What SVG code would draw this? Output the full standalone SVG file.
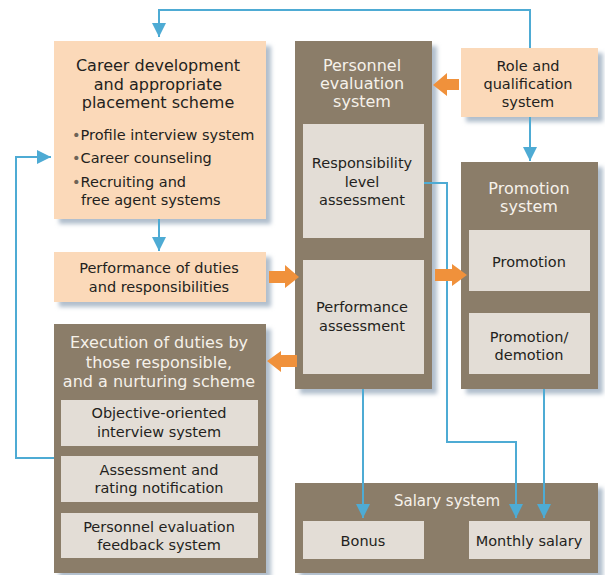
<svg xmlns="http://www.w3.org/2000/svg" width="605" height="575" viewBox="0 0 605 575">
<defs>
<filter id="sh" x="-10%" y="-10%" width="130%" height="130%">
<feDropShadow dx="5" dy="5" stdDeviation="2" flood-color="#97a9bc" flood-opacity="0.75"/>
</filter>
<marker id="ah" markerUnits="userSpaceOnUse" markerWidth="14" markerHeight="15" refX="14" refY="7" orient="auto" viewBox="0 0 14 14">
<path d="M0,0 L14,7 L0,14 Z" fill="#4eabd4"/>
</marker>
<style>
.peach{fill:#fbd9b9;filter:url(#sh)}
.brown{fill:#8b7d69;filter:url(#sh)}
.inner{fill:#e3ddd6}
text{font-family:"DejaVu Sans","Open Sans",sans-serif;font-size:14.5px;text-anchor:middle;fill:#231f20}
.t{font-size:16px}
.w{fill:#f6f1ea;font-size:16px}
.l{text-anchor:start}
.blue{fill:none;stroke:#4eabd4;stroke-width:2}
.oa{fill:#f0913b}
</style>
</defs>

<g id="career">
<rect class="peach" x="54" y="41" width="212" height="178"/>
<text class="t" x="158" y="71">Career development</text>
<text class="t" x="158" y="90">and appropriate</text>
<text class="t" x="158" y="108">placement scheme</text>
<text class="l" x="72" y="140"><tspan fill="#6d6357">•</tspan>Profile interview system</text>
<text class="l" x="72" y="163"><tspan fill="#6d6357">•</tspan>Career counseling</text>
<text class="l" x="72" y="187"><tspan fill="#6d6357">•</tspan>Recruiting and</text>
<text class="l" x="81" y="205">free agent systems</text>
</g>

<g id="perfduties">
<rect class="peach" x="54" y="252" width="212" height="50"/>
<text x="159" y="273">Performance of duties</text>
<text x="159" y="292">and responsibilities</text>
</g>

<g id="execution">
<rect class="brown" x="54" y="324" width="212" height="249"/>
<text class="w" x="159" y="348">Execution of duties by</text>
<text class="w" x="159" y="368">those responsible,</text>
<text class="w" x="159" y="387">and a nurturing scheme</text>
<rect class="inner" x="61" y="400" width="197" height="46"/>
<text x="159" y="418">Objective-oriented</text>
<text x="159" y="437">interview system</text>
<rect class="inner" x="61" y="456" width="197" height="46"/>
<text x="159" y="475">Assessment and</text>
<text x="159" y="493">rating notification</text>
<rect class="inner" x="61" y="513" width="197" height="45"/>
<text x="159" y="532">Personnel evaluation</text>
<text x="159" y="550">feedback system</text>
</g>

<g id="personnel">
<rect class="brown" x="295" y="41" width="137" height="348"/>
<text class="w" x="362" y="71">Personnel</text>
<text class="w" x="362" y="89">evaluation</text>
<text class="w" x="362" y="107">system</text>
<rect class="inner" x="303" y="124" width="121" height="114"/>
<text x="362" y="168">Responsibility</text>
<text x="362" y="187">level</text>
<text x="362" y="205">assessment</text>
<rect class="inner" x="303" y="260" width="121" height="114"/>
<text x="362" y="312">Performance</text>
<text x="362" y="331">assessment</text>
</g>

<g id="role">
<rect class="peach" x="461" y="48" width="137" height="69"/>
<text x="528" y="71">Role and</text>
<text x="528" y="89">qualification</text>
<text x="528" y="107">system</text>
</g>

<g id="promotion">
<rect class="brown" x="461" y="162" width="137" height="227"/>
<text class="w" x="529" y="194">Promotion</text>
<text class="w" x="529" y="212">system</text>
<rect class="inner" x="469" y="230" width="121" height="61"/>
<text x="529" y="267">Promotion</text>
<rect class="inner" x="469" y="313" width="121" height="61"/>
<text x="529" y="342">Promotion/</text>
<text x="529" y="360">demotion</text>
</g>

<g id="salary">
<rect class="brown" x="295" y="483" width="303" height="90"/>
<text class="w" x="447" y="506" style="font-size:15px">Salary system</text>
<rect class="inner" x="303" y="521" width="121" height="38"/>
<text x="363" y="546">Bonus</text>
<rect class="inner" x="469" y="521" width="121" height="38"/>
<text x="529" y="546">Monthly salary</text>
</g>

<g id="connectors">
<path class="blue" d="M530,48 V10 H159 V37" marker-end="url(#ah)"/>
<path class="blue" d="M530,117 V161" marker-end="url(#ah)"/>
<path class="blue" d="M159,219 V251" marker-end="url(#ah)"/>
<path class="blue" d="M54,458 H16 V157 H51" marker-end="url(#ah)"/>
<path class="blue" d="M424,183 H447 V442 H516 V518" marker-end="url(#ah)"/>
<path class="blue" d="M544,389 V518" marker-end="url(#ah)"/>
<path class="blue" d="M363,389 V518" marker-end="url(#ah)"/>
<polygon class="oa" points="459,79 447,79 447,73 433,85 447,96 447,90 459,90"/>
<polygon class="oa" points="269,271 285,271 285,265 299,277 285,288 285,283 269,283"/>
<polygon class="oa" points="297,355 281,355 281,351 267,361 281,372 281,367 297,367"/>
<polygon class="oa" points="435,269 452,269 452,264 467,275 452,286 452,281 435,281"/>
</g>
</svg>
